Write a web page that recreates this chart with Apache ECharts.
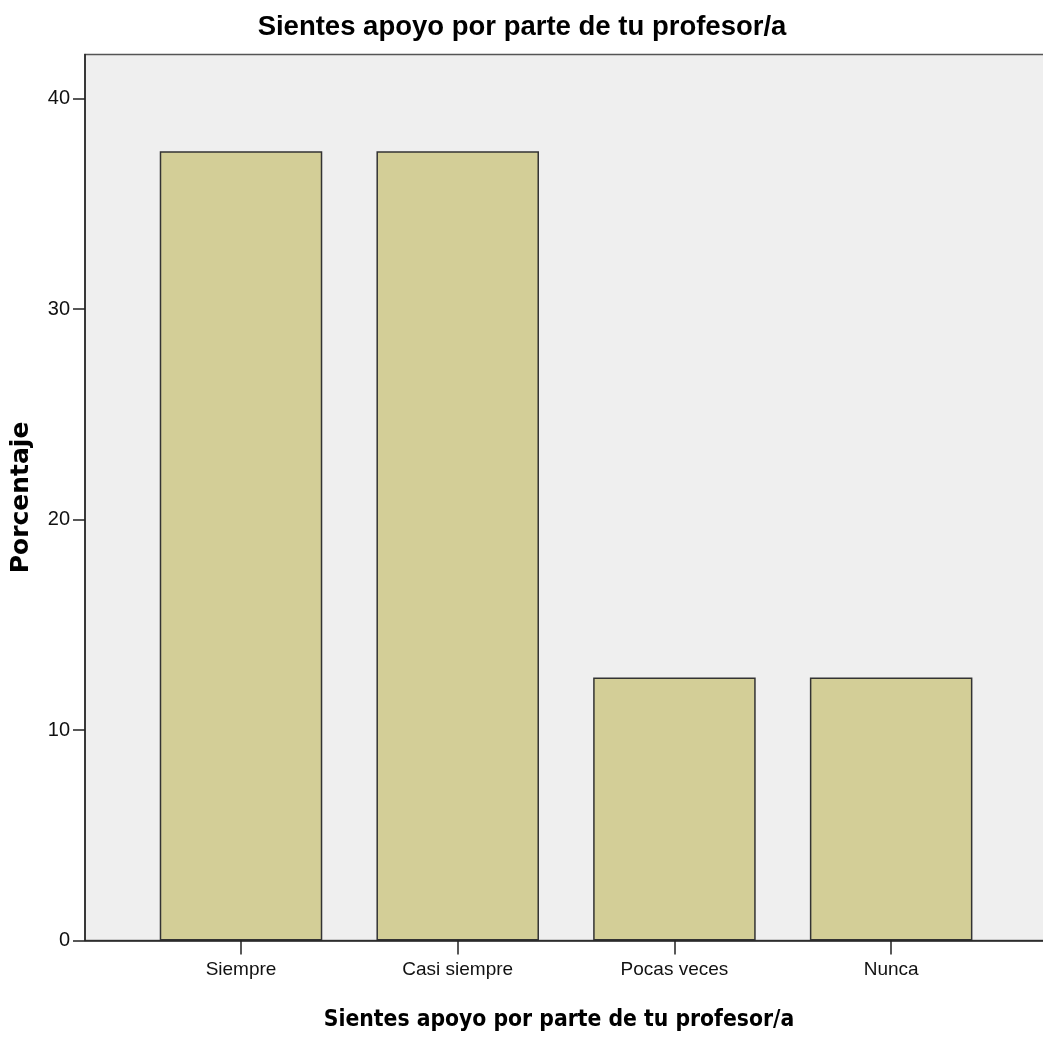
<!DOCTYPE html>
<html>
<head>
<meta charset="utf-8">
<script src="https://cdn.jsdelivr.net/npm/echarts@6/dist/echarts.min.js"></script>
<style>html,body{margin:0;padding:0;background:#fff;}#c{width:1043px;height:1039px;}</style>
</head>
<body>
<div id="c"></div>
<script>
const chartTitle = 'Sientes apoyo por parte de tu profesor/a';
const xAxisTitle = 'Sientes apoyo por parte de tu profesor/a';
const yAxisTitle = 'Porcentaje';
const categories = ['Siempre', 'Casi siempre', 'Pocas veces', 'Nunca'];
const percentages = [37.5, 37.5, 12.5, 12.5];
const yTicks = [0, 10, 20, 30, 40];

const narrow = "'Liberation Sans Narrow', 'Arial Narrow', 'Liberation Sans', sans-serif";
const chart = echarts.init(document.getElementById('c'), null, {renderer: 'canvas'});
const yMax = 42.1;
chart.setOption({
  animation: false,
  backgroundColor: '#ffffff',
  title: [
    {text: chartTitle, left: 517, top: 8, textAlign: 'center',
     textStyle: {fontFamily: narrow, fontWeight: 'bold', fontSize: 27.5, color: '#000'}},
    {text: xAxisTitle, left: 554, top: 1004, textAlign: 'center',
     textStyle: {fontFamily: "'DejaVu Sans Condensed', 'DejaVu Sans', sans-serif", fontWeight: 'bold', fontSize: 22.7, color: '#000'}}
  ],
  grid: [
    {left: 85, right: -7, top: 54.5, bottom: 98.5, show: true, backgroundColor: '#efefef',
     borderColor: '#555', borderWidth: 1.5, containLabel: false, outerBoundsMode: 'none'},
    {left: 132.65, right: 43.5, top: 54.5, bottom: 98.5, containLabel: false, outerBoundsMode: 'none'}
  ],
  xAxis: [
    {gridIndex: 0, type: 'value', min: 0, max: 1, show: false},
    {gridIndex: 1, type: 'category', data: categories,
     axisLine: {show: false},
     axisTick: {show: true, alignWithLabel: true, length: 14, lineStyle: {color: '#222', width: 1.5}},
     axisLabel: {fontFamily: narrow, fontSize: 19, color: '#111', margin: 20}}
  ],
  yAxis: [
    {gridIndex: 0, type: 'value', min: 0, max: yMax,
     name: yAxisTitle, nameLocation: 'middle', nameGap: 51, nameRotate: 90,
     nameTextStyle: {fontFamily: "'DejaVu Sans', sans-serif", fontWeight: 'bold', fontSize: 25, color: '#000'},
     splitLine: {show: false},
     axisLine: {show: true, lineStyle: {color: '#222', width: 1.5}},
     axisTick: {show: true, length: 12, customValues: yTicks, lineStyle: {color: '#222', width: 1.5}},
     axisLabel: {fontFamily: narrow, fontSize: 20, color: '#111', margin: 15, customValues: yTicks}},
    {gridIndex: 1, type: 'value', min: 0, max: yMax, show: false, splitLine: {show: false}}
  ],
  series: [
    {type: 'line', xAxisIndex: 0, yAxisIndex: 0, data: [], silent: true,
     markLine: {silent: true, symbol: 'none', label: {show: false},
       lineStyle: {type: 'solid', color: '#222', width: 1.5}, data: [{yAxis: 0}]}},
    {type: 'bar', xAxisIndex: 1, yAxisIndex: 1, data: percentages, barCategoryGap: '25%',
     itemStyle: {color: '#d3ce97', borderColor: '#333', borderWidth: 1.5}}
  ]
});
</script>
</body>
</html>
